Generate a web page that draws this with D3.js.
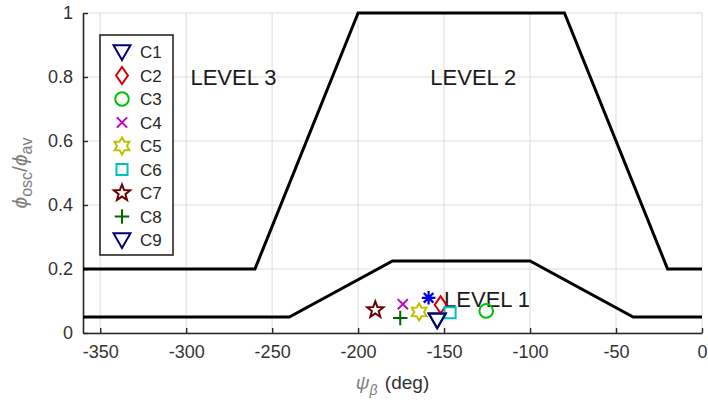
<!DOCTYPE html>
<html>
<head>
<meta charset="utf-8">
<script src="https://cdn.jsdelivr.net/npm/d3@7"></script>
<style>
  body { margin: 0; background: #fff; }
  text { font-family: Arial, "Liberation Sans", sans-serif; }
</style>
</head>
<body>
<div id="chart"></div>
<script>
// boundary lines between levels
const upperX = [-360, -260, -200, -80, -20, 0];
const upperY = [0.2, 0.2, 1, 1, 0.2, 0.2];
const lowerX = [-360, -240, -180, -100, -40, 0];
const lowerY = [0.05, 0.05, 0.225, 0.225, 0.05, 0.05];

// measured cases
const caseNames = ["C1", "C2", "C3", "C4", "C5", "C6", "C7", "C8", "C9"];
const caseX = [-154, -152, -125.5, -174, -164.5, -146.5, -190, -175.5, -154];
const caseY = [0.04, 0.088, 0.069, 0.09, 0.066, 0.063, 0.072, 0.047, 0.04];
const caseColors = ["#00006e", "#d40000", "#00c000", "#c000c0", "#c0c000", "#00c0c0", "#6a0000", "#006400", "#00006e"];
const caseMarkers = ["triDown", "diamond", "circle", "x", "hexagram", "square", "pentagram", "plus", "triDown"];
// extra point without legend entry
const extraX = [-159];
const extraY = [0.11];

const xTicks = [-350, -300, -250, -200, -150, -100, -50, 0];
const yTicks = [0, 0.2, 0.4, 0.6, 0.8, 1];
const yTickLabels = ["0", "0.2", "0.4", "0.6", "0.8", "1"];

const levelLabels = [
  { text: "LEVEL 3", x: -272.5, y: 0.8 },
  { text: "LEVEL 2", x: -133, y: 0.8 },
  { text: "LEVEL 1", x: -125, y: 0.105 }
];

const W = 708, H = 405;
const margin = { top: 13, right: 6, bottom: 72, left: 83 };

const svg = d3.select("#chart").append("svg")
  .attr("width", W).attr("height", H);

const x = d3.scaleLinear().domain([-360, 0]).range([margin.left, W - margin.right]);
const y = d3.scaleLinear().domain([0, 1]).range([H - margin.bottom, margin.top]);

// grid
const grid = svg.append("g").attr("stroke", "#dcdcdc").attr("stroke-width", 1);
grid.selectAll(".gx").data(xTicks).join("line")
  .attr("x1", d => x(d)).attr("x2", d => x(d))
  .attr("y1", y(0)).attr("y2", y(1));
grid.selectAll(".gy").data(yTicks).join("line")
  .attr("x1", x(-360)).attr("x2", x(0))
  .attr("y1", d => y(d)).attr("y2", d => y(d));

// axes (inward ticks)
const xAxis = svg.append("g")
  .attr("transform", `translate(0,${y(0)})`)
  .call(d3.axisBottom(x).tickValues(xTicks).tickSize(-5).tickSizeOuter(0).tickPadding(12)
    .tickFormat(d => String(d)));
const yAxis = svg.append("g")
  .attr("transform", `translate(${x(-360)},0)`)
  .call(d3.axisLeft(y).tickValues(yTicks).tickSize(-5).tickSizeOuter(0).tickPadding(10)
    .tickFormat((d, i) => yTickLabels[i]));
[xAxis, yAxis].forEach(a => {
  a.select(".domain").attr("stroke", "#262626").attr("stroke-width", 1.6);
  a.selectAll(".tick line").attr("stroke", "#262626").attr("stroke-width", 1.4);
  a.selectAll(".tick text").attr("fill", "#333").style("font-size", "18px");
});

// level boundaries
const line = d3.line().x(d => x(d[0])).y(d => y(d[1]));
svg.append("path")
  .datum(upperX.map((v, i) => [v, upperY[i]]))
  .attr("d", line).attr("fill", "none").attr("stroke", "#000").attr("stroke-width", 3);
svg.append("path")
  .datum(lowerX.map((v, i) => [v, lowerY[i]]))
  .attr("d", line).attr("fill", "none").attr("stroke", "#000").attr("stroke-width", 3);

// level labels
svg.selectAll(".lvl").data(levelLabels).join("text")
  .attr("x", d => x(d.x)).attr("y", d => y(d.y))
  .attr("dy", "0.36em")
  .attr("text-anchor", "middle")
  .attr("fill", "#1a1a1a")
  .style("font-size", "22px")
  .text(d => d.text);

// marker shapes, centred at 0,0, s = half size
function markerPath(type, s) {
  const p = d3.path();
  if (type === "triDown") {
    p.moveTo(-s, -s * 0.8); p.lineTo(s, -s * 0.8); p.lineTo(0, s * 0.95); p.closePath();
  } else if (type === "diamond") {
    p.moveTo(0, -s); p.lineTo(s * 0.7, 0); p.lineTo(0, s); p.lineTo(-s * 0.7, 0); p.closePath();
  } else if (type === "circle") {
    p.arc(0, 0, s * 0.8, 0, 2 * Math.PI);
  } else if (type === "x") {
    const r = s * 0.6;
    p.moveTo(-r, -r); p.lineTo(r, r); p.moveTo(-r, r); p.lineTo(r, -r);
  } else if (type === "plus") {
    const r = s * 0.85;
    p.moveTo(-r, 0); p.lineTo(r, 0); p.moveTo(0, -r); p.lineTo(0, r);
  } else if (type === "asterisk") {
    const r = s * 0.85;
    for (let k = 0; k < 4; k++) {
      const a = k * Math.PI / 4;
      p.moveTo(-r * Math.sin(a), -r * Math.cos(a)); p.lineTo(r * Math.sin(a), r * Math.cos(a));
    }
  } else if (type === "square") {
    const r = s * 0.65;
    p.rect(-r, -r, 2 * r, 2 * r);
  } else if (type === "pentagram" || type === "hexagram") {
    const n = type === "pentagram" ? 5 : 6;
    const ro = s, ri = type === "pentagram" ? s * 0.42 : s * 0.58;
    for (let k = 0; k < 2 * n; k++) {
      const a = -Math.PI / 2 + k * Math.PI / n;
      const r = k % 2 === 0 ? ro : ri;
      const px = r * Math.cos(a), py = r * Math.sin(a);
      if (k === 0) p.moveTo(px, py); else p.lineTo(px, py);
    }
    p.closePath();
  }
  return p.toString();
}

// data points
const points = caseNames.map((n, i) => ({ n, x: caseX[i], y: caseY[i], c: caseColors[i], m: caseMarkers[i] }));
svg.selectAll(".pt").data(points).join("path")
  .attr("transform", d => `translate(${x(d.x)},${y(d.y)})`)
  .attr("d", d => markerPath(d.m, 8.5))
  .attr("fill", "none").attr("stroke", d => d.c).attr("stroke-width", 2);
svg.selectAll(".ex").data(extraX).join("path")
  .attr("transform", (d, i) => `translate(${x(d)},${y(extraY[i])})`)
  .attr("d", markerPath("asterisk", 8))
  .attr("fill", "none").attr("stroke", "#0000e0").attr("stroke-width", 2.2);

// legend
const leg = svg.append("g").attr("transform", "translate(100,35)");
leg.append("rect").attr("width", 73).attr("height", 220)
  .attr("fill", "#fff").attr("stroke", "#262626").attr("stroke-width", 1.6);
const li = leg.selectAll(".li").data(points).join("g")
  .attr("transform", (d, i) => `translate(0,${17 + i * 23.5})`);
li.append("path")
  .attr("transform", "translate(22,0)")
  .attr("d", d => markerPath(d.m, 8.5))
  .attr("fill", "none").attr("stroke", d => d.c).attr("stroke-width", 2);
li.append("text").attr("x", 40).attr("dy", "0.36em")
  .attr("fill", "#262626").style("font-size", "17px")
  .text(d => d.n);

// axis titles
const xt = svg.append("text")
  .attr("x", x(-180)).attr("y", 389)
  .attr("text-anchor", "middle").style("font-size", "19px");
xt.append("tspan").attr("fill", "#808080").attr("font-style", "italic").text("ψ");
xt.append("tspan").attr("fill", "#808080").attr("font-style", "italic").attr("dy", 6).style("font-size", "14px").text("β");
xt.append("tspan").attr("fill", "#333").attr("dy", -6).attr("dx", 2).text(" (deg)");

const yt = svg.append("text")
  .attr("transform", `translate(27,${y(0.5)}) rotate(-90)`)
  .attr("text-anchor", "middle").attr("fill", "#808080").style("font-size", "21px");
yt.append("tspan").attr("font-style", "italic").text("ϕ");
yt.append("tspan").attr("dy", 5).style("font-size", "16px").text("osc");
yt.append("tspan").attr("dy", -5).text("/");
yt.append("tspan").attr("font-style", "italic").text("ϕ");
yt.append("tspan").attr("dy", 5).style("font-size", "16px").text("av");
</script>
</body>
</html>
